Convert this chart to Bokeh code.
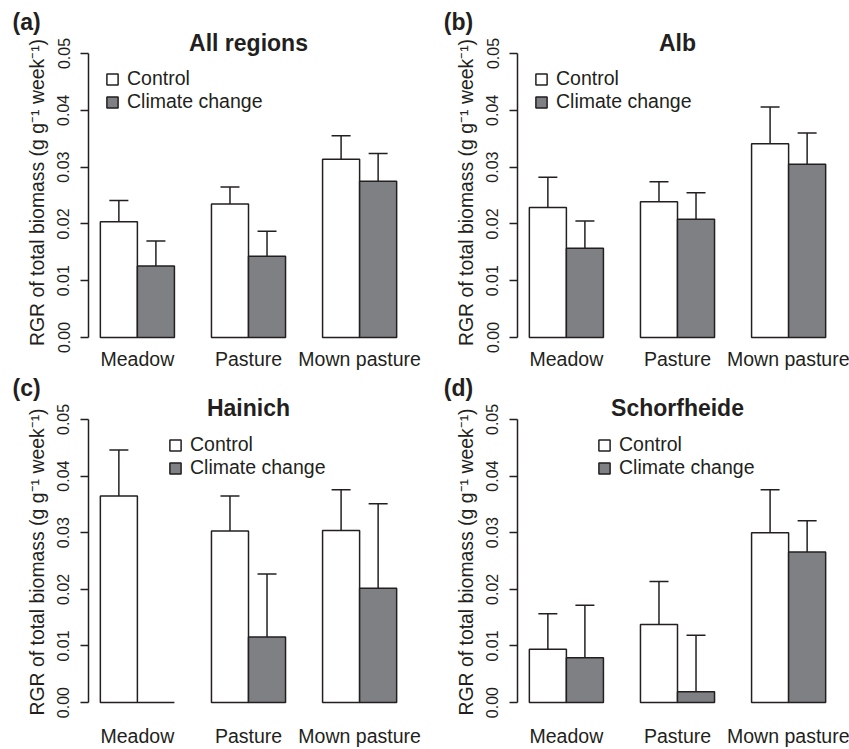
from bokeh.plotting import figure
from bokeh.models import (ColumnDataSource, Range1d, FixedTicker, PrintfTickFormatter,
                          Legend, LegendItem, Title, Whisker, TeeHead)
from bokeh.core.properties import value
from bokeh.layouts import gridplot
from bokeh.embed import file_html
from bokeh.resources import INLINE

# ---------------- data ----------------
GROUPS = ["Meadow", "Pasture", "Mown pasture"]
TREATMENTS = ["Control", "Climate change"]
Y_TICKS = [0.00, 0.01, 0.02, 0.03, 0.04, 0.05]
Y_LABEL = "RGR of total biomass (g g\u207b\u00b9 week\u207b\u00b9)"
PANEL_TAGS = ["(a)", "(b)", "(c)", "(d)"]
PANEL_TITLES = ["All regions", "Alb", "Hainich", "Schorfheide"]

# mean and upper end of error bar (mean + SE), per group
all_control = [0.0204, 0.0235, 0.0314]
all_control_hi = [0.0241, 0.0265, 0.0355]
all_cc = [0.0126, 0.0143, 0.0275]
all_cc_hi = [0.0170, 0.0187, 0.0324]

alb_control = [0.0229, 0.0239, 0.0341]
alb_control_hi = [0.0282, 0.0274, 0.0406]
alb_cc = [0.0157, 0.0208, 0.0305]
alb_cc_hi = [0.0205, 0.0255, 0.0360]

hai_control = [0.0365, 0.0303, 0.0304]
hai_control_hi = [0.0446, 0.0365, 0.0376]
hai_cc = [0.0000, 0.0116, 0.0202]
hai_cc_hi = [None, 0.0227, 0.0351]

sch_control = [0.0094, 0.0138, 0.0300]
sch_control_hi = [0.0157, 0.0214, 0.0376]
sch_cc = [0.0079, 0.0019, 0.0266]
sch_cc_hi = [0.0172, 0.0119, 0.0321]

# ---------------- style / layout ----------------
FONT = "Liberation Sans"
INK = "#231f20"
GREY = "#7f8084"
FRAME_W = 320
PX_PER_BAR = 37.0                      # one bar = one data unit on x
Y_MAX = 0.05
PX_PER_Y = 284.0 / Y_MAX
X_START = 0.68
X_END = 9.32

COL_W = [437, 412]
ROW_H = [374, 375]
BORDER_LEFT = [88, 80]
BORDER_TOP = [31, 23]
TOP_PAD_PX = [22, 22]        # frame space above the 0.05 line
BOTTOM_PAD_PX = [16, 24]     # frame space below zero
XLAB_STANDOFF = [-6, -2]
LEGEND_DX = [[17, 17], [80, 80]]       # [row][col]
LEGEND_DY = [240, 247]
TAG_DX = [-76, -73.7]
TAG_STANDOFF = -7
TITLE_UP_PX = [10.5, 11]


def bar_x(gi, ti):
    return 3 * gi + ti + 1.5


def make_panel(idx, ctrl, ctrl_hi, cc, cc_hi):
    row, col = divmod(idx, 2)
    w, h = COL_W[col], ROW_H[row]
    y_end = Y_MAX + TOP_PAD_PX[row] / PX_PER_Y
    y_start = -BOTTOM_PAD_PX[row] / PX_PER_Y
    frame_h = TOP_PAD_PX[row] + 284 + BOTTOM_PAD_PX[row]
    p = figure(width=w, height=h,
               x_range=Range1d(X_START, X_END), y_range=Range1d(y_start, y_end),
               output_backend="svg", toolbar_location=None,
               min_border_left=BORDER_LEFT[col],
               min_border_right=w - BORDER_LEFT[col] - FRAME_W,
               min_border_top=BORDER_TOP[row],
               min_border_bottom=h - BORDER_TOP[row] - frame_h)
    p.outline_line_color = None
    p.xgrid.grid_line_color = None
    p.ygrid.grid_line_color = None
    p.background_fill_color = "white"
    p.border_fill_color = "white"

    renderers = []
    for ti, (vals, his, fill) in enumerate([(ctrl, ctrl_hi, "white"), (cc, cc_hi, GREY)]):
        xs = [bar_x(gi, ti) for gi in range(len(GROUPS))]
        src = ColumnDataSource(dict(x=xs, top=vals))
        r = p.vbar(x="x", top="top", bottom=0, width=1.0, source=src,
                   fill_color=fill, line_color=INK, line_width=1.5)
        renderers.append(r)
        keep = [i for i, v in enumerate(his) if v is not None]
        wsrc = ColumnDataSource(dict(x=[xs[i] for i in keep],
                                     lo=[vals[i] for i in keep],
                                     hi=[his[i] for i in keep]))
        wh = Whisker(base="x", lower="lo", upper="hi", source=wsrc, dimension="height",
                     line_color=INK, line_width=1.5,
                     upper_head=TeeHead(size=19, line_color=INK, line_width=1.5),
                     lower_head=None)
        p.add_layout(wh)

    # y axis
    ya = p.yaxis[0]
    ya.ticker = FixedTicker(ticks=Y_TICKS)
    ya.formatter = PrintfTickFormatter(format="%.2f")
    ya.bounds = (0, Y_MAX)
    ya.major_label_orientation = "vertical"
    ya.minor_tick_line_color = None
    ya.minor_tick_out = 0
    ya.minor_tick_in = 0
    ya.major_tick_in = 0
    ya.major_tick_out = 8
    ya.axis_line_color = INK
    ya.axis_line_width = 1.5
    ya.major_tick_line_color = INK
    ya.major_tick_line_width = 1.5
    ya.major_label_text_font = FONT
    ya.major_label_text_font_size = "16px"
    ya.major_label_text_color = INK
    ya.major_label_standoff = 11
    ya.axis_label = Y_LABEL
    ya.axis_label_text_font = FONT
    ya.axis_label_text_font_size = "19.4px"
    ya.axis_label_text_font_style = "normal"
    ya.axis_label_text_color = INK
    ya.axis_label_standoff = 7

    # x axis: group names
    centers = [3 * gi + 2 for gi in range(len(GROUPS))]
    xa = p.xaxis[0]
    xa.ticker = FixedTicker(ticks=centers)
    xa.major_label_overrides = {c: g for c, g in zip(centers, GROUPS)}
    xa.axis_line_color = None
    xa.major_tick_line_color = None
    xa.minor_tick_line_color = None
    xa.major_tick_out = 0
    xa.major_tick_in = 0
    xa.minor_tick_out = 0
    xa.minor_tick_in = 0
    xa.major_label_text_font = FONT
    xa.major_label_text_font_size = "19.5px"
    xa.major_label_text_color = INK
    xa.major_label_standoff = XLAB_STANDOFF[row]

    # legend
    legend = Legend(items=[LegendItem(label=TREATMENTS[0], renderers=[renderers[0]]),
                           LegendItem(label=TREATMENTS[1], renderers=[renderers[1]])],
                    location=(LEGEND_DX[row][col], LEGEND_DY[row]),
                    glyph_width=14, glyph_height=14, label_standoff=8,
                    label_text_font=FONT, label_text_font_size="19.5px",
                    label_text_color=INK, label_height=20, spacing=0,
                    padding=0, margin=0, border_line_color=None,
                    background_fill_alpha=0)
    p.add_layout(legend)

    # panel title (inside the frame, just above the 0.05 line)
    x_mid = (X_START + X_END) / 2
    p.text(x=[x_mid], y=[Y_MAX + TITLE_UP_PX[row] / PX_PER_Y], text=[PANEL_TITLES[idx]],
           text_align="center", text_baseline="middle",
           text_font=value(FONT), text_font_style="bold", text_font_size="23px",
           text_color=INK)

    # panel tag (above the frame, left)
    p.add_layout(Title(text=PANEL_TAGS[idx], align="left", offset=TAG_DX[col],
                       standoff=TAG_STANDOFF, text_font=FONT, text_font_style="bold",
                       text_font_size="23px", text_color=INK), "above")
    return p


pa = make_panel(0, all_control, all_control_hi, all_cc, all_cc_hi)
pb = make_panel(1, alb_control, alb_control_hi, alb_cc, alb_cc_hi)
pc = make_panel(2, hai_control, hai_control_hi, hai_cc, hai_cc_hi)
pd = make_panel(3, sch_control, sch_control_hi, sch_cc, sch_cc_hi)

grid = gridplot([[pa, pb], [pc, pd]], toolbar_location=None)

open("out.html", "w").write(file_html(grid, INLINE))
